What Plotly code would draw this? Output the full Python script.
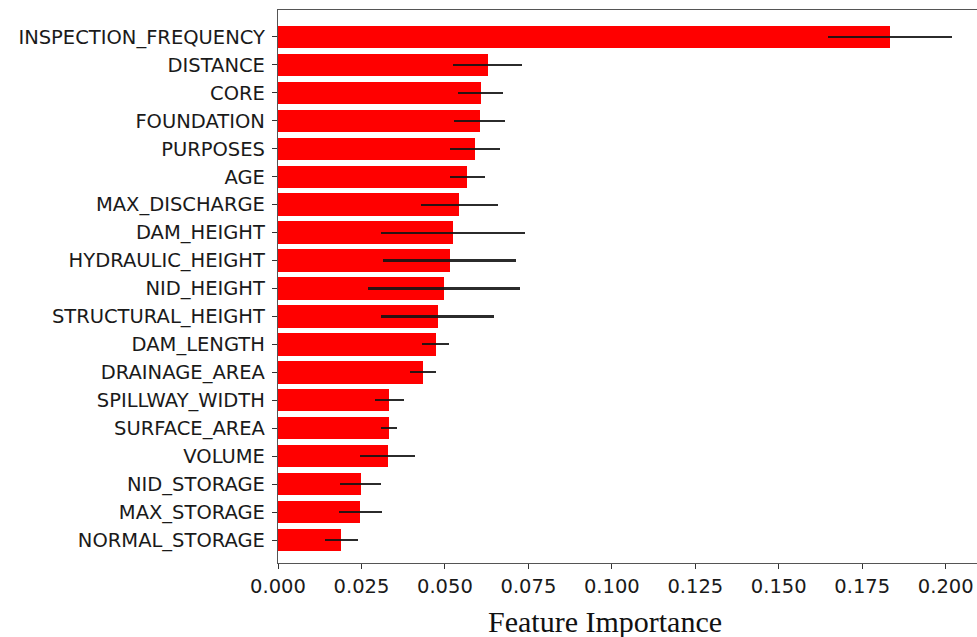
import plotly.graph_objects as go

# Permutation feature importance (mean and spread), listed top to bottom
features = [
    "INSPECTION_FREQUENCY", "DISTANCE", "CORE", "FOUNDATION", "PURPOSES", "AGE",
    "MAX_DISCHARGE", "DAM_HEIGHT", "HYDRAULIC_HEIGHT", "NID_HEIGHT",
    "STRUCTURAL_HEIGHT", "DAM_LENGTH", "DRAINAGE_AREA", "SPILLWAY_WIDTH",
    "SURFACE_AREA", "VOLUME", "NID_STORAGE", "MAX_STORAGE", "NORMAL_STORAGE",
]
importance = [
    0.1833, 0.0628, 0.0607, 0.0604, 0.0590, 0.0567,
    0.0543, 0.0525, 0.0514, 0.0498,
    0.0478, 0.0472, 0.0435, 0.0333,
    0.0332, 0.0328, 0.0248, 0.0247, 0.0190,
]
importance_std = [
    0.0187, 0.0103, 0.0067, 0.0076, 0.0075, 0.0052,
    0.0116, 0.0216, 0.0200, 0.0227,
    0.0169, 0.0041, 0.0039, 0.0043,
    0.0024, 0.0082, 0.0062, 0.0065, 0.0050,
]
x_ticks = [0.000, 0.025, 0.050, 0.075, 0.100, 0.125, 0.150, 0.175, 0.200]

n = len(features)
pos = list(range(n - 1, -1, -1))  # first feature at the top

fig = go.Figure(
    go.Bar(
        x=importance,
        y=pos,
        orientation="h",
        width=0.8,
        marker=dict(color="#ff0000", line=dict(width=0)),
        error_x=dict(
            type="data",
            array=importance_std,
            color="rgba(20,20,20,0.9)",
            thickness=2.2,
            width=0,
        ),
    )
)

tick_font = dict(family="DejaVu Sans", size=19.5, color="#1a1a1a")

fig.update_xaxes(
    range=[0, 0.20938],
    tickvals=x_ticks,
    ticktext=[f"{t:.3f}" for t in x_ticks],
    tickfont=tick_font,
    ticks="outside",
    ticklen=5,
    tickcolor="#333",
    showline=True,
    linecolor="#555",
    linewidth=1.3,
    mirror=True,
    showgrid=False,
    zeroline=False,
)
fig.update_yaxes(
    range=[-0.823, n - 1 + 0.966],
    tickvals=pos,
    ticktext=features,
    tickfont=tick_font,
    ticks="outside",
    ticklen=5,
    tickcolor="#333",
    showline=True,
    linecolor="#555",
    linewidth=1.3,
    showgrid=False,
    zeroline=False,
    ticklabelstandoff=3,
)

fig.add_annotation(
    text="Feature Importance",
    xref="paper", yref="paper",
    x=0.468, y=0,
    yshift=-40,
    xanchor="center", yanchor="top",
    showarrow=False,
    font=dict(family="Liberation Serif", size=30, color="#111"),
)

fig.update_layout(
    width=977,
    height=637,
    margin=dict(l=278, r=0, t=10, b=74, autoexpand=False),
    plot_bgcolor="white",
    paper_bgcolor="white",
    showlegend=False,
    bargap=0,
)

fig.write_html("out.html")
